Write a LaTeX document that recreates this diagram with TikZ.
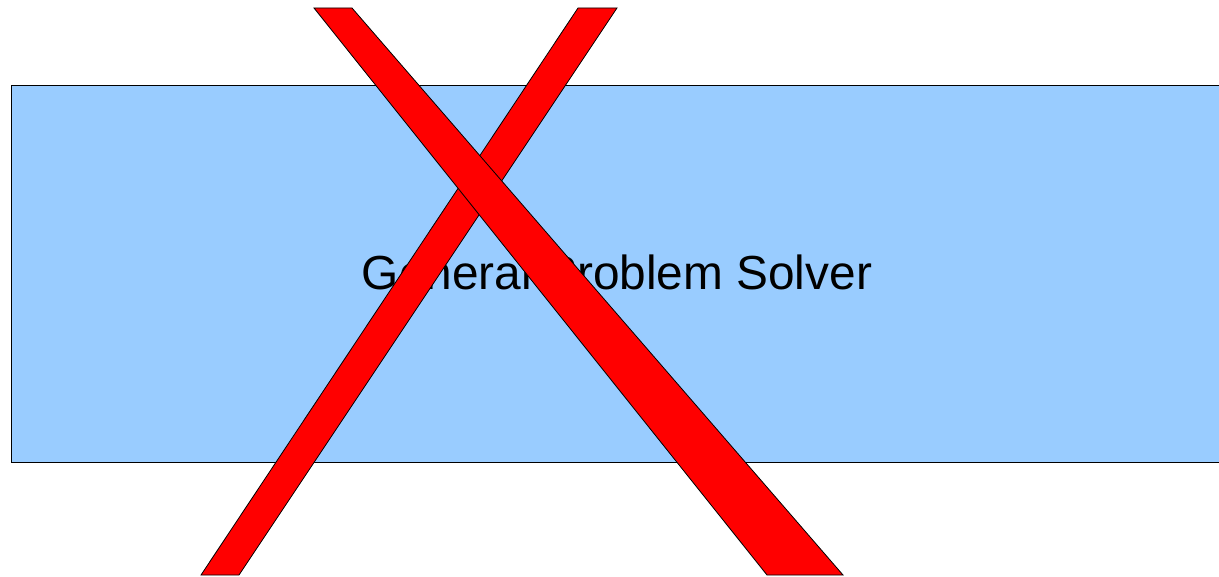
\documentclass[tikz,border=0pt]{standalone}
\usepackage{fontspec}
\setmainfont{Liberation Sans}
\definecolor{boxblue}{HTML}{99CCFF}
\definecolor{xred}{HTML}{FF0000}
\tikzset{
  boxstyle/.style={draw=black, fill=boxblue, line width=0.8pt},
  barstyle/.style={draw=black, fill=xred, line width=0.8pt, line join=miter},
  labelstyle/.style={font=\fontsize{47.8}{52}\selectfont, text=black, inner sep=0pt, anchor=base}
}
\begin{document}
\begin{tikzpicture}[x=1pt,y=-1pt]
\useasboundingbox (0,0) rectangle (1219,577);
\fill[boxblue] (11,85) rectangle (1219,462);
\draw[black, line width=0.8pt] (1219,85) -- (11,85) -- (11,462) -- (1219,462);
\node[labelstyle] (label) at (617,290) {General Problem Solver};
\draw[barstyle] (578,8) -- (617,8) -- (239,575) -- (201,575) -- cycle;
\draw[barstyle] (314,8) -- (352,8) -- (843,575) -- (767,575) -- cycle;
\end{tikzpicture}
\end{document}
